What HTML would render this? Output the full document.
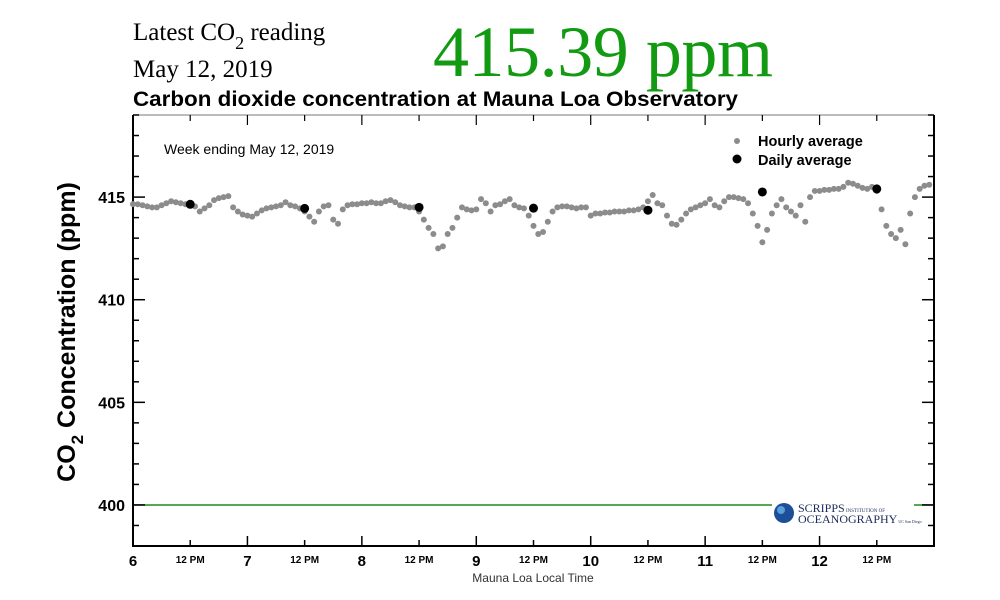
<!DOCTYPE html>
<html><head><meta charset="utf-8"><style>
body{margin:0;background:#fff;width:1000px;height:600px;overflow:hidden;font-family:"Liberation Sans",sans-serif}
svg{position:absolute;left:0;top:0}
</style></head><body>
<svg id="chart" width="1000" height="600">
<text x="133" y="40" font-family="Liberation Serif" font-size="25">Latest CO<tspan font-size="18" dy="9">2</tspan><tspan dy="-9"> reading</tspan></text>
<text x="133" y="77" font-family="Liberation Serif" font-size="25">May 12, 2019</text>
<text x="433" y="76" font-family="Liberation Serif" font-size="72" fill="#129a12" textLength="340">415.39 ppm</text>
<text x="133" y="106" font-size="21" font-weight="bold" textLength="605" lengthAdjust="spacingAndGlyphs">Carbon dioxide concentration at Mauna Loa Observatory</text>
<text transform="translate(75,332) rotate(-90)" text-anchor="middle" font-size="25" font-weight="bold">CO<tspan font-size="17" dy="8">2</tspan><tspan dy="-8"> Concentration (ppm)</tspan></text>
<text x="533" y="582" text-anchor="middle" font-size="12" fill="#333">Mauna Loa Local Time</text>
<text x="164" y="154" font-size="14">Week ending May 12, 2019</text>
<g id="g"></g>
<g>
<circle cx="737" cy="141" r="3" fill="#8c8c8c"/>
<text x="758" y="146" font-size="14.5" font-weight="bold">Hourly average</text>
<circle cx="737" cy="159" r="4.5" fill="#000"/>
<text x="758" y="165" font-size="14.5" font-weight="bold">Daily average</text>
</g>
<g>
<rect x="772" y="498" width="142" height="30" fill="#fff"/>
<circle cx="784" cy="513" r="10" fill="#1d4e9a"/><circle cx="781" cy="510" r="4" fill="#5aa0d8"/>
<text x="798" y="512" font-family="Liberation Serif" font-size="12" fill="#1a2a5a">SCRIPPS<tspan font-size="5"> INSTITUTION OF</tspan></text>
<text x="798" y="523" font-family="Liberation Serif" font-size="12" fill="#1a2a5a">OCEANOGRAPHY<tspan font-size="4"> UC San Diego</tspan></text>
</g>
</svg>
<script>
const hourly=[414.66,414.65,414.6,414.55,414.5,414.5,414.6,414.7,414.8,414.75,414.7,414.65,414.7,414.55,414.3,414.45,414.6,414.85,414.95,415.0,415.05,414.5,414.3,414.15,
414.1,414.05,414.2,414.35,414.45,414.5,414.55,414.6,414.75,414.6,414.55,414.45,414.3,414.05,413.8,414.3,414.55,414.6,413.9,413.7,414.4,414.6,414.65,414.65,
414.7,414.7,414.75,414.7,414.7,414.8,414.85,414.75,414.6,414.55,414.5,414.5,414.3,413.9,413.5,413.2,412.5,412.6,413.2,413.5,414.0,414.5,414.4,414.35,
414.4,414.9,414.7,414.3,414.6,414.65,414.8,414.9,414.6,414.5,414.45,414.1,413.6,413.2,413.3,413.8,414.3,414.5,414.55,414.55,414.5,414.45,414.5,414.5,
414.1,414.2,414.2,414.25,414.25,414.3,414.3,414.3,414.35,414.35,414.4,414.5,414.8,415.1,414.7,414.6,414.1,413.7,413.65,413.9,414.2,414.4,414.5,414.6,
414.7,414.9,414.6,414.5,414.8,415.0,415.0,414.95,414.9,414.7,414.2,413.6,412.8,413.4,414.2,414.6,414.9,414.5,414.3,414.1,414.6,413.8,415.0,415.3,
415.3,415.35,415.35,415.4,415.4,415.5,415.7,415.65,415.55,415.45,415.4,415.5,415.3,414.4,413.6,413.2,413.0,413.4,412.7,414.2,415.0,415.4,415.55,415.6];
const dailyDays=[6,7,8,9,10,11,12];
const daily=[414.65,414.45,414.5,414.46,414.36,415.25,415.4];
const yTicks=[400,405,410,415];
const xDays=[6,7,8,9,10,11,12];
const X0=133,X1=934,Y0=546,Y1=115,XMIN=6,XMAX=13,YMIN=398,YMAX=419;
const sx=d=>X0+(d-XMIN)/(XMAX-XMIN)*(X1-X0);
const sy=v=>Y0-(v-YMIN)/(YMAX-YMIN)*(Y0-Y1);
const NS="http://www.w3.org/2000/svg",g=document.getElementById('g');
function mk(t,a){const e=document.createElementNS(NS,t);for(const k in a)e.setAttribute(k,a[k]);g.appendChild(e);return e;}
let e=mk('line',{x1:X0,x2:X1,y1:sy(400),y2:sy(400),stroke:'#1f8a1f','stroke-width':1.5});


e=mk('line',{x1:X0,x2:X1,y1:Y1,y2:Y1,stroke:'#777','stroke-width':1});


e=mk('path',{d:`M${X0},${Y1}V${Y0}H${X1}V${Y1}`,fill:'none',stroke:'#000','stroke-width':2});


for(let v=YMIN;v<=YMAX;v++){const L=(v%5===0)?12:6;
 mk('line',{x1:X0,x2:X0+L,y1:sy(v),y2:sy(v),stroke:'#000','stroke-width':1.5});
 mk('line',{x1:X1-L,x2:X1,y1:sy(v),y2:sy(v),stroke:'#000','stroke-width':1.5});}
yTicks.forEach(v=>{const t=mk('text',{x:X0-8,y:sy(v)+6,'text-anchor':'end','font-size':16,'font-weight':'bold'});t.textContent=v;
 
 });
xDays.forEach(d=>{mk('line',{x1:sx(d),x2:sx(d),y1:Y0,y2:Y0-10,stroke:'#000','stroke-width':1.5});
 mk('line',{x1:sx(d+0.5),x2:sx(d+0.5),y1:Y0,y2:Y0-6,stroke:'#000','stroke-width':1.5});
 mk('line',{x1:sx(d),x2:sx(d),y1:Y1,y2:Y1+10,stroke:'#000','stroke-width':1.2});
 mk('line',{x1:sx(d+0.5),x2:sx(d+0.5),y1:Y1,y2:Y1+6,stroke:'#000','stroke-width':1.2});
 let t=mk('text',{x:sx(d),y:566,'text-anchor':'middle','font-size':15,'font-weight':'bold'});t.textContent=d;
 
 
 t=mk('text',{x:sx(d+0.5),y:563,'text-anchor':'middle','font-size':10,'font-weight':'bold'});t.textContent='12 PM';
 
 });
hourly.forEach((v,h)=>{const c=mk('circle',{cx:sx(XMIN+h/24),cy:sy(v),r:3,fill:'#8c8c8c'});
 
 });
daily.forEach((v,i)=>{const c=mk('circle',{cx:sx(dailyDays[i]+0.5),cy:sy(v),r:4.5,fill:'#000'});
 
 });
</script>
</body></html>
